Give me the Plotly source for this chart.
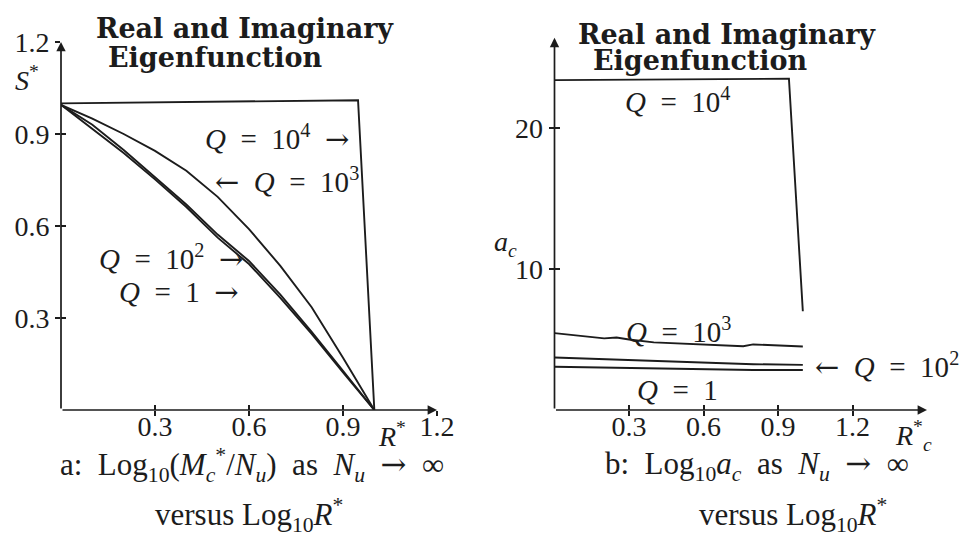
import plotly.graph_objects as go

# ---- Panel a: S* versus R* for four values of Q ----
r_star = [0.0, 0.1, 0.2, 0.3, 0.4, 0.5, 0.6, 0.7, 0.8, 0.9, 1.0]
s_q1 = [0.995, 0.915, 0.838, 0.752, 0.662, 0.562, 0.476, 0.366, 0.248, 0.123, 0.0]
s_q100 = [0.995, 0.930, 0.848, 0.760, 0.670, 0.572, 0.486, 0.376, 0.255, 0.128, 0.0]
s_q1000 = [0.995, 0.950, 0.900, 0.845, 0.780, 0.695, 0.590, 0.470, 0.335, 0.170, 0.0]
r_q10k = [0.0, 0.948, 1.0]
s_q10k = [1.0, 1.01, 0.0]

# ---- Panel b: a_c versus R*_c ----
rc_q1000 = [0.0, 0.1, 0.2, 0.25, 0.3, 0.4, 0.5, 0.6, 0.7, 0.76, 0.8, 0.9, 1.0]
ac_q1000 = [5.45, 5.28, 5.08, 5.14, 5.0, 4.8, 4.72, 4.65, 4.58, 4.52, 4.65, 4.58, 4.5]
rc_low = [0.0, 0.2, 0.4, 0.5, 0.6, 0.8, 1.0]
ac_q100 = [3.72, 3.60, 3.45, 3.38, 3.33, 3.25, 3.20]
ac_q1 = [3.07, 3.00, 2.93, 2.90, 2.86, 2.84, 2.84]
rc_q10k = [0.0, 0.944, 1.0]
ac_q10k = [23.4, 23.5, 7.0]

# ---- axis ticks ----
a_xticks = [0.3, 0.6, 0.9, 1.2]
a_yticks = [0.3, 0.6, 0.9, 1.2]
b_xticks = [0.3, 0.6, 0.9, 1.2]
b_yticks = [10, 20]
a_xrange = [0, 1.2]
a_yrange = [0, 1.2]
b_xrange = [0, 1.5]
b_yrange = [0, 26.4]

W, H = 964, 534
INK = "#1c1c1c"
SERIF = "Liberation Serif"
TITLE_FONT = dict(family="DejaVu Serif", size=27, color=INK)
TXT = dict(family=SERIF, size=28, color=INK)
LBL = dict(family=SERIF, size=29, color=INK)
CAP = dict(family=SERIF, size=31, color=INK)
SP = "\u2002"  # en space, as in typeset math
ARROW_R = "<span style=\"font-family:'DejaVu Serif'\">→</span>"
ARROW_L = "<span style=\"font-family:'DejaVu Serif'\">←</span>"
EQ = SP + "=" + SP


def pp(x, y):
    """pixel position -> paper coordinates"""
    return x / W, 1 - y / H


fig = go.Figure()

line = dict(color=INK, width=1.9)
for xs, ys in [(r_star, s_q1), (r_star, s_q100), (r_star, s_q1000), (r_q10k, s_q10k)]:
    fig.add_trace(go.Scatter(x=xs, y=ys, mode="lines", line=line,
                             xaxis="x", yaxis="y", cliponaxis=False, showlegend=False))
for xs, ys in [(rc_low, ac_q1), (rc_low, ac_q100), (rc_q1000, ac_q1000), (rc_q10k, ac_q10k)]:
    fig.add_trace(go.Scatter(x=xs, y=ys, mode="lines", line=line,
                             xaxis="x2", yaxis="y2", cliponaxis=False, showlegend=False))

# empty traces so the overlaid "inside" tick axes get drawn
for xa, ya in [("x3", "y"), ("x", "y3"), ("x4", "y2"), ("x2", "y4")]:
    fig.add_trace(go.Scatter(x=[], y=[], xaxis=xa, yaxis=ya, showlegend=False))

dom_ax = [61 / W, 437 / W]
dom_ay = [1 - 410 / H, 1 - 42 / H]
dom_bx = [554.5 / W, 927 / W]
dom_by = [1 - 410 / H, 1 - 37.8 / H]

base = dict(showgrid=False, zeroline=False, showline=False, ticks="outside",
            ticklen=5, tickwidth=1.6, tickcolor=INK, tickfont=TXT, automargin=False)
inner = dict(showgrid=False, zeroline=False, showline=False, ticks="inside",
             ticklen=5, tickwidth=1.6, tickcolor=INK, showticklabels=False,
             automargin=False)

fig.update_layout(
    template="none",
    width=W, height=H, margin=dict(l=0, r=0, t=0, b=0, pad=0),
    paper_bgcolor="white", plot_bgcolor="white", showlegend=False,
    xaxis=dict(base, domain=dom_ax, range=a_xrange, tickvals=a_xticks,
               ticktext=[str(v) for v in a_xticks], anchor="y", ticklabelstandoff=-14),
    yaxis=dict(base, domain=dom_ay, range=a_yrange, tickvals=a_yticks,
               ticktext=[str(v) for v in a_yticks], anchor="x"),
    xaxis2=dict(base, domain=dom_bx, range=b_xrange, tickvals=b_xticks,
                ticktext=[str(v) for v in b_xticks], anchor="y2", ticklabelstandoff=-14),
    yaxis2=dict(base, domain=dom_by, range=b_yrange, tickvals=b_yticks,
                ticktext=[str(v) for v in b_yticks], anchor="x2"),
    xaxis3=dict(inner, overlaying="x", matches="x", anchor="y", tickvals=a_xticks),
    yaxis3=dict(inner, overlaying="y", matches="y", anchor="x", tickvals=a_yticks),
    xaxis4=dict(inner, overlaying="x2", matches="x2", anchor="y2", tickvals=b_xticks),
    yaxis4=dict(inner, overlaying="y2", matches="y2", anchor="x2", tickvals=b_yticks),
)

ann = []


def arrow_axis(xref, yref, x0, y0, x1, y1):
    ann.append(dict(xref=xref, yref=yref, axref=xref, ayref=yref,
                    x=x1, y=y1, ax=x0, ay=y0, text="", showarrow=True,
                    arrowhead=2, arrowsize=1.1, arrowwidth=1.7, arrowcolor=INK))


# axis lines with arrow heads
arrow_axis("x", "y", 0, 0, a_xrange[1], 0)
arrow_axis("x", "y", 0, 0, 0, a_yrange[1])
arrow_axis("x2", "y2", 0, 0, b_xrange[1], 0)
arrow_axis("x2", "y2", 0, 0, 0, b_yrange[1])


def text(s, x, y, xref="paper", yref="paper", xanchor="center", font=TXT):
    ann.append(dict(text=s, x=x, y=y, xref=xref, yref=yref, showarrow=False,
                    xanchor=xanchor, yanchor="middle", font=font))


def ptext(s, px, py, xanchor="center", font=TXT):
    x, y = pp(px, py)
    text(s, x, y, xanchor=xanchor, font=font)


# titles
ptext("<b>Real and Imaginary</b>", 245, 28, font=TITLE_FONT)
ptext("<b>Eigenfunction</b>", 215, 57, font=TITLE_FONT)
ptext("<b>Real and Imaginary</b>", 727, 34, font=TITLE_FONT)
ptext("<b>Eigenfunction</b>", 700, 60, font=TITLE_FONT)

# axis names
ptext("<i>S</i><sup>*</sup>", 27, 78)
ptext("<i>R</i><sup>*</sup>", 392, 434)
ptext("<i>a<sub>c</sub></i>", 505, 243)
ptext("<i>R</i><sup>*</sup><sub><i>c</i></sub>", 913, 435)

# curve labels, panel a
text("<i>Q</i>" + EQ + "10<sup>4</sup>" + SP + ARROW_R, 0.453, 0.89, "x", "y", "left", LBL)
text(ARROW_L + SP + "<i>Q</i>" + EQ + "10<sup>3</sup>", 0.485, 0.75, "x", "y", "left", LBL)
text("<i>Q</i>" + EQ + "10<sup>2</sup>" + SP + ARROW_R, 0.115, 0.496, "x", "y", "left", LBL)
text("<i>Q</i>" + EQ + "1" + SP + ARROW_R, 0.179, 0.385, "x", "y", "left", LBL)

# curve labels, panel b
text("<i>Q</i>" + EQ + "10<sup>4</sup>", 0.495, 22.0, "x2", "y2", font=LBL)
text("<i>Q</i>" + EQ + "10<sup>3</sup>", 0.50, 5.7, "x2", "y2", font=LBL)
text(ARROW_L + SP + "<i>Q</i>" + EQ + "10<sup>2</sup>", 1.04, 3.19, "x2", "y2", "left", LBL)
text("<i>Q</i>" + EQ + "1", 0.495, 1.42, "x2", "y2", font=LBL)

# captions
ptext("a:" + SP + "Log<sub>10</sub>(<i>M</i><sub><i>c</i></sub><sup>*</sup>/<i>N<sub>u</sub></i>)"
      + SP + "as" + SP + "<i>N<sub>u</sub></i>" + SP + ARROW_R + SP + "∞", 252, 465, font=CAP)
ptext("versus Log<sub>10</sub><i>R</i><sup>*</sup>", 249, 515, font=CAP)
ptext("b:" + SP + "Log<sub>10</sub><i>a<sub>c</sub></i>" + SP + "as" + SP
      + "<i>N<sub>u</sub></i>" + SP + ARROW_R + SP + "∞", 757, 465, font=CAP)
ptext("versus Log<sub>10</sub><i>R</i><sup>*</sup>", 793, 515, font=CAP)

fig.update_layout(annotations=ann)
fig.write_html("out.html")
